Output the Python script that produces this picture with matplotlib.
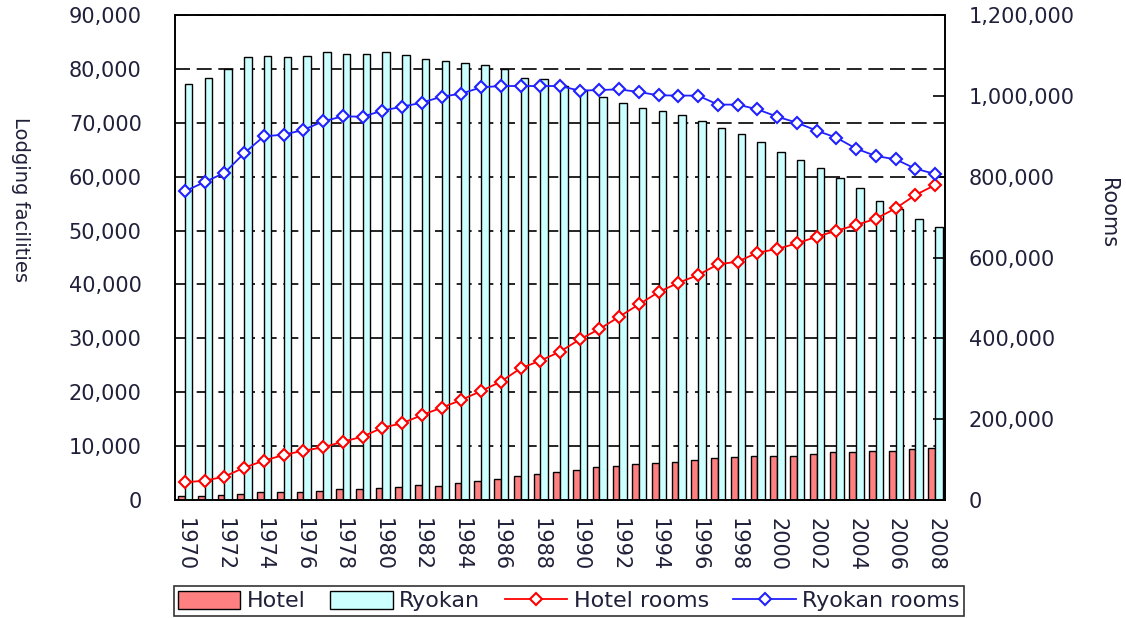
import numpy as np
import matplotlib.pyplot as plt
from matplotlib.ticker import FuncFormatter

years = list(range(1970, 2009))

hotel = [750, 800, 850, 1100, 1450, 1400, 1450, 1650, 1950, 2000,
         2250, 2450, 2750, 2650, 3090, 3590, 3830, 4450, 4760, 5250,
         5500, 6060, 6310, 6620, 6870, 7110, 7420, 7730, 7980, 8230,
         8240, 8250, 8540, 8840, 8850, 9090, 9100, 9400, 9590]

ryokan = [77200, 78300, 80000, 82200, 82450, 82200, 82450, 83070, 82830, 82830,
          83070, 82500, 81900, 81400, 81100, 80800, 80000, 78300, 78050, 76800,
          76080, 74700, 73600, 72800, 72250, 71440, 70330, 68970, 67860, 66500,
          64520, 63160, 61550, 59690, 57840, 55430, 54000, 52090, 50720]

hotel_rooms = [43700, 47800, 57700, 80000, 97300, 111300, 122000, 130200, 144300, 156700,
               178900, 189700, 210000, 228400, 247400, 269700, 292700, 325700, 344700, 366900,
               397400, 423100, 453500, 484100, 514600, 537500, 556700, 583100, 589700, 611900,
               621000, 635100, 651400, 666300, 680400, 696000, 721700, 754600, 779400]

ryokan_rooms = [763800, 786800, 809100, 857800, 899800, 903900, 915500, 936900, 949300, 948400,
                963200, 973100, 983000, 997900, 1005300, 1021000, 1024300, 1024300, 1024300, 1024300,
                1012800, 1014400, 1016000, 1009400, 1001200, 1000800, 1000400, 978300, 978300, 966600,
                948400, 933600, 913800, 896500, 869300, 851100, 842900, 819800, 806600]

txt = '#20203a'
comma = FuncFormatter(lambda v, p: f'{int(v):,}')

fig = plt.figure(figsize=(11.26, 6.18), dpi=100)
ax = fig.add_axes([175 / 1126, 118 / 618, 770 / 1126, 485 / 618])
x = np.arange(len(years))

ax.set_axisbelow(True)
ax.yaxis.grid(True, color='black', lw=1.2, linestyle=(0, (9, 4)))
# hotel bar sits left of the year centre, ryokan bar right of it
b1 = ax.bar(x - 0.34, hotel, width=0.34, align='edge', color='#ff8080', edgecolor='black', lw=1.0)
b2 = ax.bar(x, ryokan, width=0.38, align='edge', color='#ccffff', edgecolor='black', lw=1.0)

ax.set_xlim(-0.5, len(years) - 0.5)
ax.set_ylim(0, 90000)
ax.set_yticks(range(0, 90001, 10000))
ax.yaxis.set_major_formatter(comma)
ax.set_xticks(x[::2])
ax.set_xticklabels([str(y) for y in years[::2]], rotation=270, fontsize=15, color=txt)
ax.tick_params(axis='x', length=0, pad=13)
ax.tick_params(axis='y', direction='in', length=0, pad=24, labelsize=15, labelcolor=txt)

ax2 = ax.twinx()
l1, = ax2.plot(x, hotel_rooms, color='#ff0000', lw=1.3, marker='D', ms=6,
               mfc='white', mec='#ff0000', mew=1.5)
l2, = ax2.plot(x, ryokan_rooms, color='#2020ff', lw=1.3, marker='D', ms=6,
               mfc='white', mec='#2020ff', mew=1.5)
ax2.set_ylim(0, 1200000)
ax2.set_yticks(range(0, 1200001, 200000))
ax2.yaxis.set_major_formatter(comma)
ax2.tick_params(axis='y', direction='in', length=9, width=1.2, pad=17, labelsize=15, labelcolor=txt)

for a in (ax, ax2):
    for s in a.spines.values():
        s.set_color('black')
        s.set_linewidth(1.2)

fig.text(20 / 1126, 1 - 200 / 618, 'Lodging facilities', rotation=270, ha='center', va='center',
         fontsize=14, color=txt)
fig.text(1108 / 1126, 1 - 213 / 618, 'Rooms', rotation=270, ha='center', va='center',
         fontsize=15, color=txt)

leg = fig.legend([b1, b2, l1, l2], ['Hotel', 'Ryokan', 'Hotel rooms', 'Ryokan rooms'],
                 loc='center', bbox_to_anchor=(569 / 1126, 1 - 601 / 618), ncol=4,
                 fontsize=16, frameon=True, fancybox=False, edgecolor='black',
                 handlelength=2.8, handleheight=0.9, handletextpad=0.3, columnspacing=1.1,
                 borderpad=0.2, borderaxespad=0, labelcolor=txt)
leg.get_frame().set_linewidth(1.2)

fig.savefig('out.png', dpi=100)
